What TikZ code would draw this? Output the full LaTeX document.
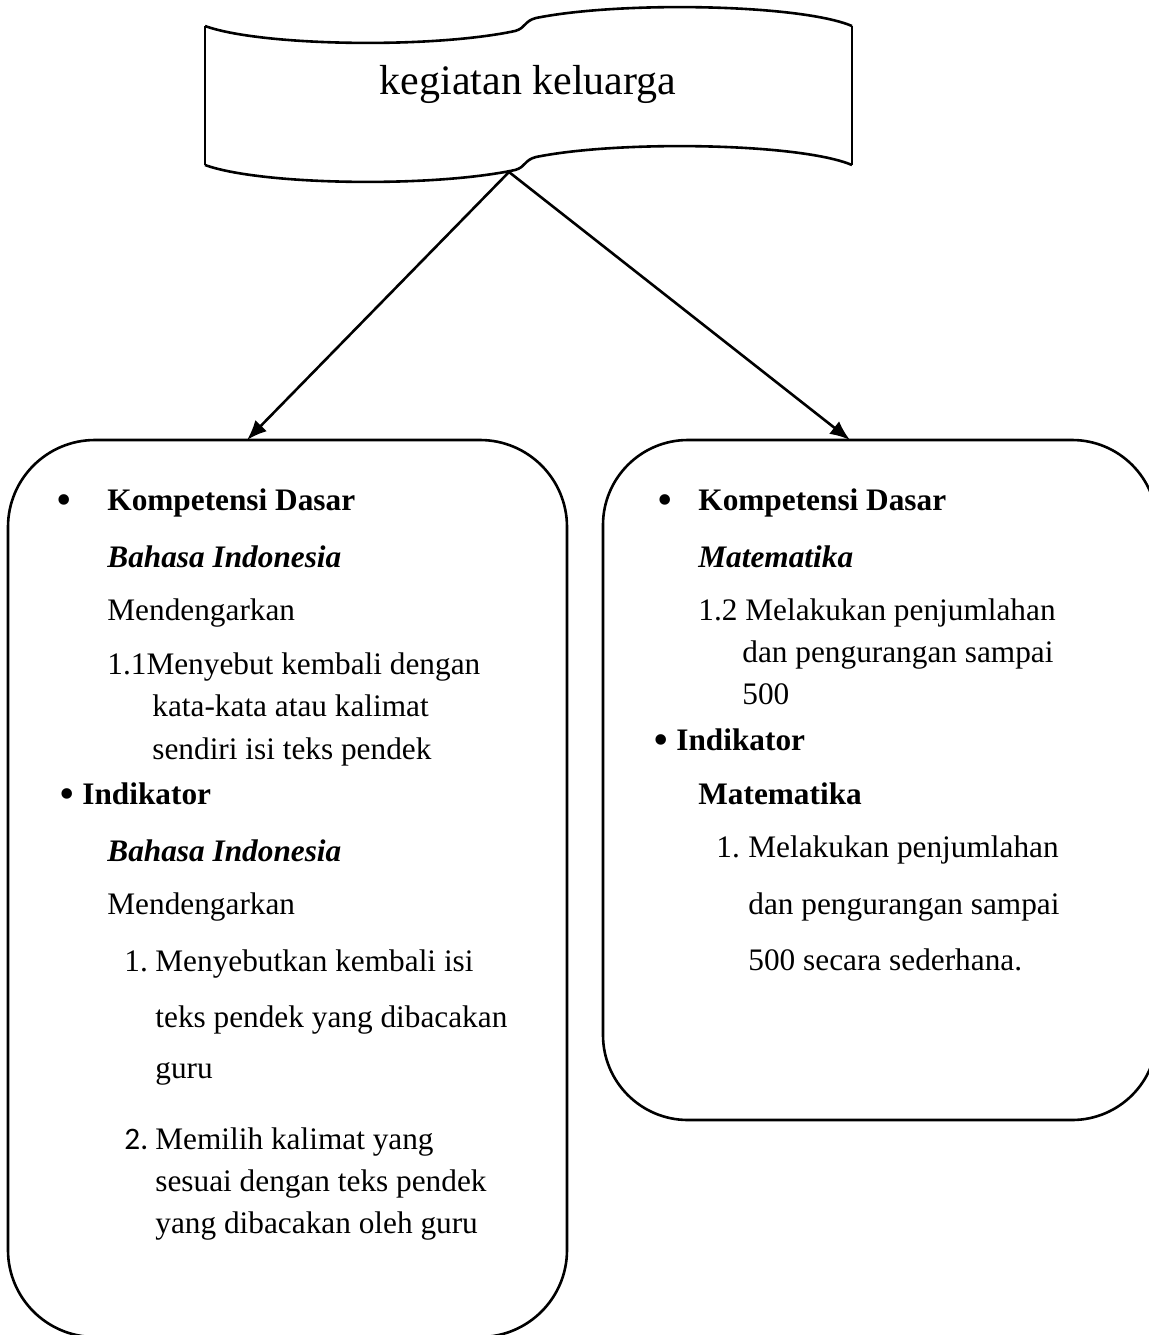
\documentclass[tikz,border=0pt]{standalone}
\usepackage{fontspec}
\setmainfont{Liberation Serif}
\newfontfamily\calibrifont{Carlito}
\usetikzlibrary{arrows.meta}

\newcommand{\bodyfont}{\fontsize{15.65}{18}\selectfont}
\newcommand{\titlefont}{\fontsize{21}{25}\selectfont}
\newcommand{\bigbullet}{{\fontsize{22}{22}\selectfont\raisebox{-2.2pt}{\textbullet}}}

\tikzset{
  outline/.style={line width=1.3pt},
  link/.style={line width=1.3pt, -{Latex[length=10pt,width=8pt]}},
  txtline/.style={anchor=base west, inner sep=0pt, font=\bodyfont},
  dot/.style={anchor=base, inner sep=0pt, font=\bodyfont},
}

\begin{document}
\begin{tikzpicture}[x=0.5pt,y=-0.5pt]
        \useasboundingbox (0,0) rectangle (1149,1335);

        % wavy banner
        \foreach \dy in {0,139}
        {
        \draw[outline, shift={(0,\dy)}] (205,26) .. controls (260,46) and (430,49) .. (515,31)
            .. controls (526,28) and (524,21) .. (536,18)
            .. controls (620,1) and (800,4) .. (852,26);
        }
        \draw[outline] (205,26) -- (205,165);
        \draw[outline] (852,26) -- (852,165);
        \node[font=\titlefont, anchor=base, inner sep=0pt] (tema) at (528,94) {kegiatan keluarga};

        % rounded boxes
        \draw[outline, rounded corners=43.5pt] (8,440) rectangle (567,1337);
        \draw[outline, rounded corners=42.5pt] (603,440) rectangle (1157,1120);

        \coordinate (puncak) at (509,172);
        \coordinate (kiri) at (247,440);
        \coordinate (kanan) at (850,440);
        \draw[link] (puncak) -- (kiri);
        \draw[link] (puncak) -- (kanan);

        % left box
        \node[dot] (bulA) at (64,510) {\bigbullet};
        \node[txtline] (kdA) at (107,510) {\textbf{Kompetensi Dasar}};
        \node[txtline] (mapelA) at (107,567) {\textbf{\textit{Bahasa Indonesia}}};
        \node[txtline] (aspekA) at (107,620) {Mendengarkan};
        \node[txtline] (kdA1) at (107,674) {1.1Menyebut kembali dengan};
        \node[txtline] (kdA2) at (152,716) {kata-kata atau kalimat};
        \node[txtline] (kdA3) at (152,759) {sendiri isi teks pendek};
        \node[dot] (bulB) at (67,804) {\bigbullet};
        \node[txtline] (indA) at (82,804) {\textbf{Indikator}};
        \node[txtline] (mapelB) at (107,861) {\textbf{\textit{Bahasa Indonesia}}};
        \node[txtline] (aspekB) at (107,914) {Mendengarkan};
        \node[txtline] (noA1) at (124,971) {1.};
        \node[txtline] (indA1) at (155,971) {Menyebutkan kembali isi};
        \node[txtline] (indA2) at (155,1027) {teks pendek yang dibacakan};
        \node[txtline] (indA3) at (155,1078) {guru};
        \node[txtline] (noA2) at (124,1149) {\calibrifont 2.};
        \node[txtline] (indA4) at (155,1149) {Memilih kalimat yang};
        \node[txtline] (indA5) at (155,1191) {sesuai dengan teks pendek};
        \node[txtline] (indA6) at (155,1233) {yang dibacakan oleh guru};

        % right box
        \node[dot] (bulC) at (665,510) {\bigbullet};
        \node[txtline] (kdB) at (698,510) {\textbf{Kompetensi Dasar}};
        \node[txtline] (mapelC) at (698,567) {\textbf{\textit{Matematika}}};
        \node[txtline] (kdB1) at (698,620) {1.2 Melakukan penjumlahan};
        \node[txtline] (kdB2) at (742,662) {dan pengurangan sampai};
        \node[txtline] (kdB3) at (742,704) {500};
        \node[dot] (bulD) at (661,750) {\bigbullet};
        \node[txtline] (indB) at (676,750) {\textbf{Indikator}};
        \node[txtline] (mapelD) at (698,804) {\textbf{Matematika}};
        \node[txtline] (noB1) at (716,857) {1.};
        \node[txtline] (indB1) at (748,857) {Melakukan penjumlahan};
        \node[txtline] (indB2) at (748,914) {dan pengurangan sampai};
        \node[txtline] (indB3) at (748,970) {500 secara sederhana.};
    \end{tikzpicture}
\end{document}
